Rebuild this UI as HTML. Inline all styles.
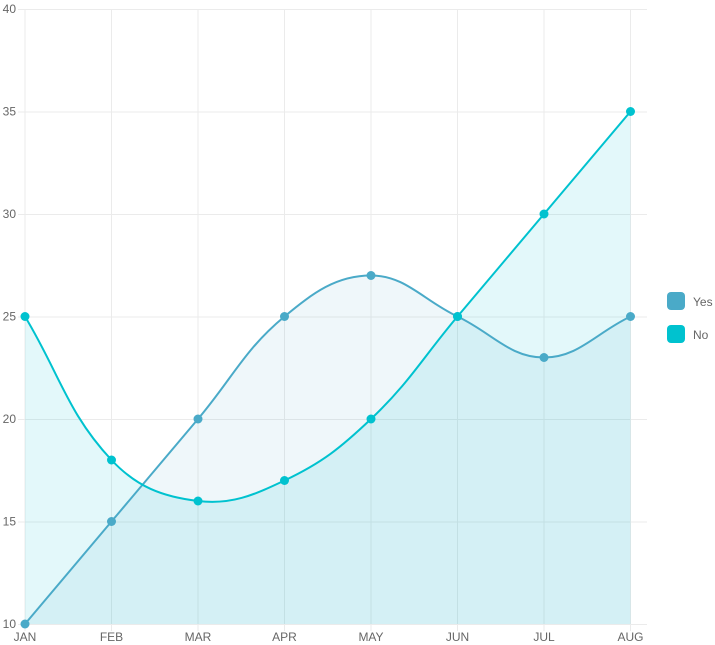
<!DOCTYPE html><html><head><style>body{margin:0;background:#fff}svg{display:block;font-family:"Liberation Sans",sans-serif}</style></head><body>
<svg id="s" width="715" height="645" xmlns="http://www.w3.org/2000/svg">
<g stroke="#ebebeb" stroke-width="1" id="grid"></g>
<g id="lbl" font-size="12" fill="#666"></g>
<g id="plot"></g>
<rect x="667" y="292" width="18" height="18" rx="4" fill="#4aaac8"/>
<text x="693" y="306" font-size="12" fill="#666">Yes</text>
<rect x="667" y="325" width="18" height="18" rx="4" fill="#00c2cf"/>
<text x="693" y="339" font-size="12" fill="#666">No</text>
</svg>
<script>
const X=[25,111.5,198,284.5,371,457.5,544,630.5],m=["JAN","FEB","MAR","APR","MAY","JUN","JUL","AUG"];
const Y=v=>624-(v-10)*20.5;
const ns="http://www.w3.org/2000/svg";
function el(p,t,a,txt){const e=document.createElementNS(ns,t);for(const k in a)e.setAttribute(k,a[k]);if(txt)e.textContent=txt;document.getElementById(p).appendChild(e);}
for(let v=10;v<=40;v+=5){el("grid","line",{x1:18,x2:647,y1:Y(v)+.5,y2:Y(v)+.5});el("lbl","text",{x:16,y:Y(v)+4,"text-anchor":"end"},""+v);}
X.forEach((x,i)=>{el("grid","line",{x1:x,x2:x,y1:9,y2:631});el("lbl","text",{x:x,y:641,"text-anchor":"middle"},m[i]);});
function path(d){const p=d.map((v,i)=>[X[i],Y(v)]);const t=0.4;const cps=p.map((c,i)=>{const a=p[i-1]||c,b=p[i+1]||c;const d01=Math.hypot(c[0]-a[0],c[1]-a[1]),d12=Math.hypot(b[0]-c[0],b[1]-c[1]);let s01=d01/(d01+d12)||0,s12=d12/(d01+d12)||0;const fa=t*s01,fb=t*s12;return [[c[0]-fa*(b[0]-a[0]),c[1]-fa*(b[1]-a[1])],[c[0]+fb*(b[0]-a[0]),c[1]+fb*(b[1]-a[1])]];});
let s="M"+p[0];for(let i=1;i<p.length;i++)s+=" C"+cps[i-1][1]+" "+cps[i][0]+" "+p[i];return [s,p];}
const sets=[[[10,15,20,25,27,25,23,25],"#4aaac8","rgba(74,170,200,0.09)"],[[25,18,16,17,20,25,30,35],"#00c2cf","rgba(0,192,207,0.11)"]];
sets.forEach(([d,c,f])=>{const [s]=path(d);el("plot","path",{d:s+" L630.5,624 L25,624 Z",fill:f});});
sets.forEach(([d,c,f])=>{const [s,p]=path(d);el("plot","path",{d:s,fill:"none",stroke:c,"stroke-width":2});p.forEach(q=>el("plot","circle",{cx:q[0],cy:q[1],r:4.5,fill:c}));});
</script></body></html>
